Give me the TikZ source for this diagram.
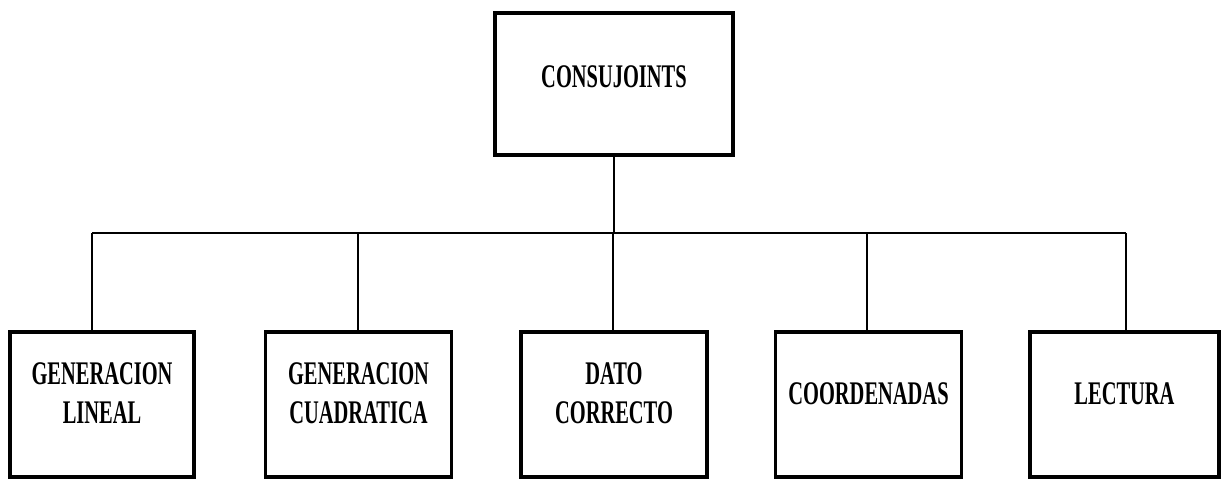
\documentclass[tikz,border=0pt]{standalone}
\usepackage{fontspec}
\newfontfamily\plotfont[FakeStretch=0.62]{Liberation Serif}
\begin{document}
\begin{tikzpicture}[x=1pt,y=-1pt,
  box/.style={draw=black,line width=3.6pt,fill=white,inner sep=0pt},
  topbox/.style={box,minimum width=238pt,minimum height=142pt},
  leafbox/.style={box,minimum width=186pt,minimum height=145pt},
  lbl/.style={align=center,inner sep=0pt,font=\plotfont\bfseries\fontsize{33}{39}\selectfont},
  link/.style={draw=black,line width=1.4pt}]
\useasboundingbox (0,0) rectangle (1227,491);

% root of the chart
\node[topbox] (top) at (614,84) {};
\node[lbl,yshift=7pt] (topt) at (top.center) {CONSUJOINTS};

% the five modules
\node[leafbox,minimum width=184pt] (b1) at (102,404.5) {};
\node[leafbox] (b2) at (358.5,404.5) {};
\node[leafbox] (b3) at (614,404.5) {};
\node[leafbox] (b4) at (868.5,404.5) {};
\node[leafbox,minimum width=189pt] (b5) at (1124.5,404.5) {};

\node[lbl,yshift=11pt] (b1t) at (b1.center) {GENERACION\\LINEAL};
\node[lbl,yshift=11pt] (b2t) at (b2.center) {GENERACION\\CUADRATICA};
\node[lbl,yshift=11pt] (b3t) at (b3.center) {DATO\\CORRECTO};
\node[lbl,yshift=11pt] (b4t) at (b4.center) {COORDENADAS};
\node[lbl,yshift=11pt] (b5t) at (b5.center) {LECTURA};

% branch points on the bus line
\coordinate (j0) at (614,233);
\coordinate (j1) at (92,233);
\coordinate (j2) at (358,233);
\coordinate (j3) at (613,233);
\coordinate (j4) at (867,233);
\coordinate (j5) at (1126,233);

\draw[link] (top.south) -- (j0);
\draw[link] (j1) -- (j5);
\draw[link] (j1) -- (j1 |- b1.north);
\draw[link] (j2) -- (j2 |- b2.north);
\draw[link] (j3) -- (j3 |- b3.north);
\draw[link] (j4) -- (j4 |- b4.north);
\draw[link] (j5) -- (j5 |- b5.north);
\end{tikzpicture}
\end{document}
